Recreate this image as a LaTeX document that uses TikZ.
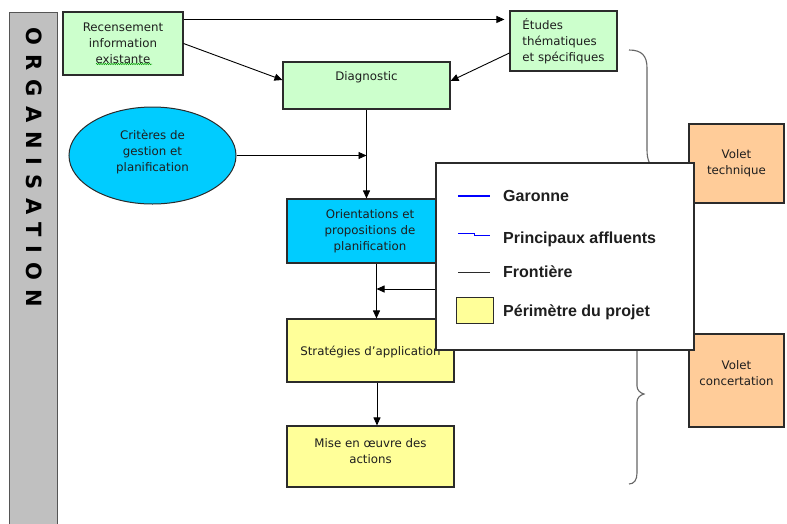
\documentclass[tikz,border=0pt]{standalone}
\usepackage{fontspec}
\setmainfont{DejaVu Sans}
\newfontfamily\boxfont{DejaVu Sans}
\newfontfamily\legfont{Liberation Sans}
\newfontfamily\orgfont{DejaVu Sans}[LetterSpace=43]
\usetikzlibrary{arrows.meta,shapes.geometric,decorations.pathmorphing}

\definecolor{boxline}{HTML}{2B2B2B}
\definecolor{boxtext}{HTML}{1E1E1E}
\definecolor{pgreen}{HTML}{CCFFCC}
\definecolor{pcyan}{HTML}{00CCFF}
\definecolor{pyellow}{HTML}{FFFF99}
\definecolor{porange}{HTML}{FFCC99}
\definecolor{pgrey}{HTML}{C0C0C0}
\definecolor{bracegrey}{HTML}{666666}

\tikzset{
  box/.style={draw=boxline, line width=1.1pt, inner sep=0pt},
  txt/.style={font=\boxfont\fontsize{11.8}{16}\selectfont, text=boxtext, align=center, inner sep=0pt},
  arr/.style={line width=0.9pt, -{Triangle[length=8pt,width=7pt]}},
  legtxt/.style={font=\legfont\bfseries\fontsize{16}{19}\selectfont, text=boxtext, anchor=base west, inner sep=0pt},
  bracepath/.style={draw=bracegrey, line width=1.1pt},
}

\begin{document}
\begin{tikzpicture}[x=1pt,y=-1pt]
\clip (0,0) rectangle (787,523);
\fill[white] (0,0) rectangle (787,523);

% side banner
\node[box, fill=pgrey, draw=boxline!80, minimum width=48, minimum height=530, anchor=north west] (bar) at (9,12) {};
\node[rotate=-90, font=\orgfont\bfseries\fontsize{21}{21}\selectfont, inner sep=0pt] (org) at (34.5,167.5) {ORGANISATION};

% boxes
\node[box, fill=pgreen, minimum width=120, minimum height=63] (rec) at (123,43.5) {};
\node[txt] (rect) at (123,43.5) {Recensement\\information\\existante};
\draw[green!60!black, line width=0.5pt, decorate, decoration={zigzag, segment length=2.2pt, amplitude=0.7pt}] (96,64) -- (152,64);

\node[box, fill=pgreen, minimum width=107, minimum height=60] (etu) at (563.5,41) {};
\node[txt, align=left] (etut) at (563.5,41) {Études\\thématiques\\et spécifiques};

\node[box, fill=pgreen, minimum width=167, minimum height=47] (diag) at (366.5,85.5) {};
\node[txt] (diagt) at (366.5,77) {Diagnostic};

\node[box, ellipse, fill=pcyan, line width=1pt, minimum width=167, minimum height=97] (crit) at (152.5,155.5) {};
\node[txt] (critt) at (152.5,152) {Critères de\\gestion et\\planification};

\node[box, fill=pcyan, minimum width=166, minimum height=64] (orient) at (370,231) {};
\node[txt] (orientt) at (370,231) {Orientations et\\propositions de\\planification};

\node[box, fill=pyellow, minimum width=167, minimum height=63] (strat) at (370.5,350.5) {};
\node[txt] (stratt) at (370.5,352) {Stratégies d’application};

\node[box, fill=pyellow, minimum width=167, minimum height=61] (mise) at (370.5,456.5) {};
\node[txt] (miset) at (370.5,451) {Mise en œuvre des\\actions};

\node[box, fill=porange, minimum width=95, minimum height=79] (vtech) at (736.5,163.5) {};
\node[txt] (vtecht) at (736.5,163.5) {Volet\\technique};

\node[box, fill=porange, minimum width=95, minimum height=93] (vconc) at (736.5,380.5) {};
\node[txt] (vconct) at (736.5,373.5) {Volet\\concertation};

% connectors
\draw[arr] ([yshift=-8pt]rec.north east) -- ([xshift=-5pt,yshift=-9pt]etu.north west);
\draw[arr] (rec.east) -- ([yshift=5.5pt]diag.west);
\draw[arr] ([yshift=-12pt]etu.west) -- ([yshift=4.5pt]diag.east);
\draw[arr] (diag.south) -- (diag.south |- orient.north);
\draw[arr] (crit.east) -- (diag.south |- crit.east);
\coordinate (os) at ([xshift=6.5pt]orient.south);
\draw[arr] (os) -- (os |- strat.north);
\coordinate (fromleg) at (560,289);
\draw[arr] (fromleg) -- (fromleg -| os);
\draw[arr] ([xshift=6.5pt]strat.south) -- ([xshift=6.5pt]strat.south |- mise.north);

% braces
\draw[bracepath] (629,50) .. controls (642,50) and (647,56) .. (647,68) -- (647,150)
  .. controls (647,160) and (650,167) .. (656,168)
  .. controls (650,169) and (647,176) .. (647,186) -- (647,268)
  .. controls (647,280) and (642,286) .. (629,286);
\draw[bracepath] (629,304) .. controls (634,304) and (637,308) .. (637,315) -- (637,386)
  .. controls (637,390) and (640,393) .. (644,394)
  .. controls (640,395) and (637,398) .. (637,402) -- (637,473)
  .. controls (637,480) and (634,484) .. (629,484);

% legend
\node[box, fill=white, line width=1.2pt, minimum width=258, minimum height=187] (legend) at (565,256.5) {};
\draw[blue, line width=2pt] (458,196) -- (490,196);
\node[legtxt] (lg1) at (503,201.5) {Garonne};
\draw[blue, line width=0.9pt] (458,233) -- (474,233) -- (474,235) -- (490,235);
\node[legtxt] (lg2) at (503,243.5) {Principaux affluents};
\draw[boxline, line width=0.9pt] (458,272) -- (490,272);
\node[legtxt] (lg3) at (503,277) {Frontière};
\node[box, fill=pyellow, line width=1pt, minimum width=37, minimum height=26, anchor=north west] (lgsq) at (456,297) {};
\node[legtxt] (lg4) at (503,316) {Périmètre du projet};
\end{tikzpicture}
\end{document}
